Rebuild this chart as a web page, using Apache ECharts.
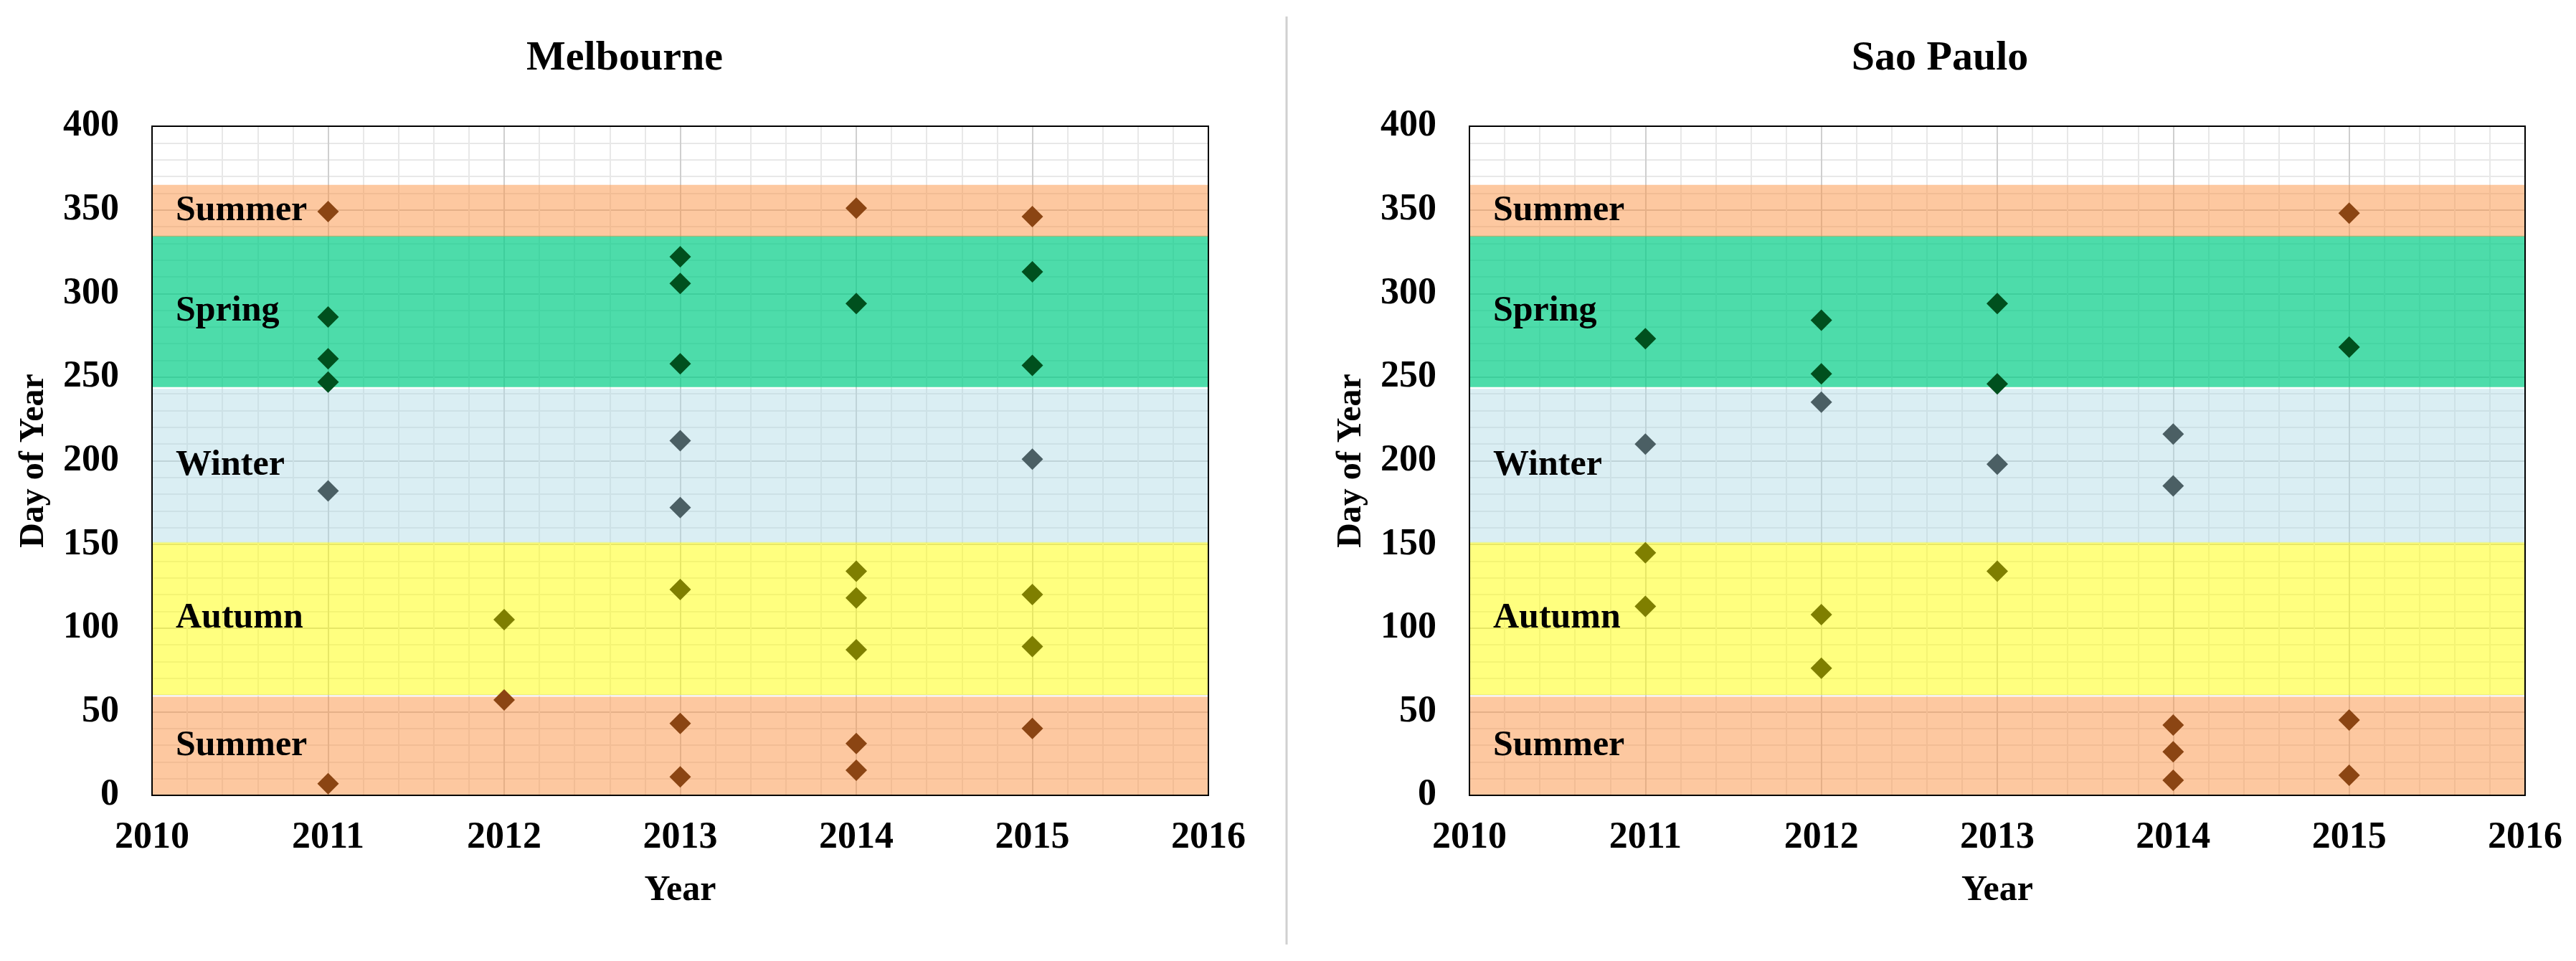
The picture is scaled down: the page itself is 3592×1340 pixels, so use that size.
<!DOCTYPE html>
<html>
<head>
<meta charset="utf-8">
<script src="https://cdn.jsdelivr.net/npm/echarts@6/dist/echarts.min.js"></script>
<style>
html,body{margin:0;padding:0;background:#fff;}
#chart{width:3592px;height:1340px;}
</style>
</head>
<body>
<div id="chart"></div>
<script>
// ---- data ----
const chartTitles = ['Melbourne', 'Sao Paulo'];
const xTickMin = 2010, xTickMax = 2016;
const yTickMin = 0, yTickMax = 400;

const melbourneSummer = [[2011,349],[2011,7],[2012,57],[2013,43],[2013,11],[2014,351],[2014,31],[2014,15],[2015,346],[2015,40]];
const melbourneAutumn = [[2012,105],[2013,123],[2014,134],[2014,118],[2014,87],[2015,120],[2015,89]];
const melbourneWinter = [[2011,182],[2013,212],[2013,172],[2015,201]];
const melbourneSpring = [[2011,286],[2011,261],[2011,247],[2013,322],[2013,306],[2013,258],[2014,294],[2015,313],[2015,257]];

const saoPauloSummer = [[2014,42],[2014,26],[2014,9],[2015,348],[2015,45],[2015,12]];
const saoPauloAutumn = [[2011,145],[2011,113],[2012,108],[2012,76],[2013,134]];
const saoPauloWinter = [[2011,210],[2012,235],[2013,198],[2014,216],[2014,185]];
const saoPauloSpring = [[2011,273],[2012,284],[2012,252],[2013,294],[2013,246],[2015,268]];

// season bands (day of year)
const bandNames = ['Summer', 'Autumn', 'Winter', 'Spring', 'Summer'];
const bandFrom  = [0, 60, 151, 244, 334];
const bandTo    = [59, 151.5, 243, 334.5, 365];

// ---- styles ----
const FONT = '"Liberation Serif", "Times New Roman", serif';
const bandColors = ['rgba(251,145,65,0.5)', 'rgba(255,255,0,0.5)', 'rgba(170,216,227,0.44)', 'rgba(2,205,134,0.7)', 'rgba(251,145,65,0.5)'];
const pointColors = { summer: '#8B4513', autumn: '#7F7F00', winter: '#4B5F64', spring: '#00501E' };

const grids = [
  { left: 212, top: 176, width: 1473, height: 933, show: true, z: 2, borderColor: '#000', borderWidth: 2, backgroundColor: 'transparent' },
  { left: 2049, top: 176, width: 1472, height: 933, show: true, z: 2, borderColor: '#000', borderWidth: 2, backgroundColor: 'transparent' }
];
const titleX = [871, 2705];

function xAxisFor(i) {
  return {
    type: 'value', gridIndex: i, min: xTickMin, max: xTickMax, interval: 1,
    name: 'Year', nameLocation: 'middle', nameGap: 108,
    nameTextStyle: { fontFamily: FONT, fontWeight: 'bold', fontSize: 50, color: '#000' },
    axisLine: { show: false }, axisTick: { show: false },
    axisLabel: { margin: 34, fontFamily: FONT, fontWeight: 'bold', fontSize: 52, color: '#000', formatter: v => String(v) },
    splitLine: { show: true, lineStyle: { color: '#cfcfcf', width: 2 } },
    minorTick: { show: false, splitNumber: 5 },
    minorSplitLine: { show: true, lineStyle: { color: '#e8e8e8', width: 2 } }
  };
}
function yAxisFor(i) {
  return {
    type: 'value', gridIndex: i, min: yTickMin, max: yTickMax, interval: 50,
    name: 'Day of Year', nameLocation: 'middle', nameGap: 140, nameRotate: 90,
    nameTextStyle: { fontFamily: FONT, fontWeight: 'bold', fontSize: 48, color: '#000' },
    axisLine: { show: false }, axisTick: { show: false },
    axisLabel: { margin: 46, fontFamily: FONT, fontWeight: 'bold', fontSize: 52, color: '#000', formatter: v => String(v) },
    splitLine: { show: true, lineStyle: { color: '#cfcfcf', width: 2 } },
    minorTick: { show: false, splitNumber: 5 },
    minorSplitLine: { show: true, lineStyle: { color: '#e8e8e8', width: 2 } }
  };
}

function bandSeries(i) {
  const areas = bandNames.map((n, k) => [
    { name: n, yAxis: bandFrom[k], itemStyle: { color: bandColors[k] } },
    { yAxis: bandTo[k] }
  ]);
  return {
    type: 'scatter', xAxisIndex: i, yAxisIndex: i, data: [], z: 1, silent: true,
    markArea: {
      silent: true,
      label: { show: true, position: 'insideLeft', distance: 33, fontFamily: FONT, fontWeight: 'bold', fontSize: 50, color: '#000' },
      data: areas
    }
  };
}
function pointSeries(i, data, color) {
  return {
    type: 'scatter', xAxisIndex: i, yAxisIndex: i, data: data, z: 3,
    symbol: 'diamond', symbolSize: 30,
    itemStyle: { color: color, opacity: 1 }
  };
}

const option = {
  backgroundColor: '#fff',
  animation: false,
  title: chartTitles.map((t, i) => ({
    text: t, left: titleX[i], top: 53, textAlign: 'center', padding: 0,
    textStyle: { fontFamily: FONT, fontWeight: 'bold', fontSize: 58, color: '#000' }
  })),
  grid: grids,
  xAxis: [xAxisFor(0), xAxisFor(1)],
  yAxis: [yAxisFor(0), yAxisFor(1)],
  graphic: [{
    type: 'line', silent: true,
    shape: { x1: 1794, y1: 23, x2: 1794, y2: 1317 },
    style: { stroke: '#d0d0d0', lineWidth: 3 }
  }],
  series: [
    bandSeries(0),
    pointSeries(0, melbourneSummer, pointColors.summer),
    pointSeries(0, melbourneAutumn, pointColors.autumn),
    pointSeries(0, melbourneWinter, pointColors.winter),
    pointSeries(0, melbourneSpring, pointColors.spring),
    bandSeries(1),
    pointSeries(1, saoPauloSummer, pointColors.summer),
    pointSeries(1, saoPauloAutumn, pointColors.autumn),
    pointSeries(1, saoPauloWinter, pointColors.winter),
    pointSeries(1, saoPauloSpring, pointColors.spring)
  ]
};

const chart = echarts.init(document.getElementById('chart'), null, { renderer: 'canvas' });
chart.setOption(option);
</script>
</body>
</html>
